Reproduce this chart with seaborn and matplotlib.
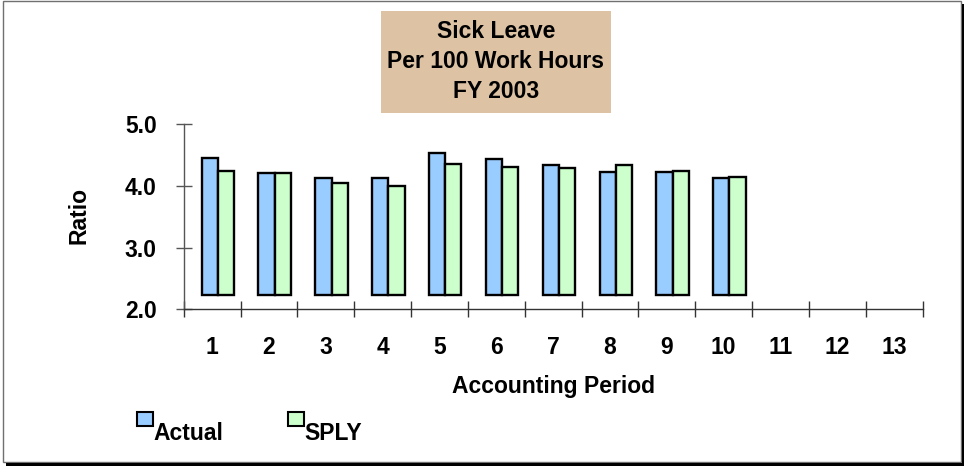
import numpy as np
import pandas as pd
import matplotlib
matplotlib.use('Agg')
import matplotlib.pyplot as plt
from matplotlib.patches import Rectangle
import seaborn as sns

# Veriler
periods = [str(i) for i in range(1, 14)]
actual = [4.45, 4.21, 4.13, 4.13, 4.53, 4.43, 4.33, 4.23, 4.23, 4.13]
sply = [4.24, 4.20, 4.05, 3.99, 4.36, 4.31, 4.29, 4.33, 4.24, 4.15]
series = ['Actual', 'SPLY']
colors = ['#99CCFF', '#CCFFCC']
yticks = [2.0, 3.0, 4.0, 5.0]
bar_base = 2.23

df = pd.DataFrame({
    'period': periods[:len(actual)] * 2,
    'value': actual + sply,
    'series': ['Actual'] * len(actual) + ['SPLY'] * len(sply),
})

sns.set_style('white')
plt.rcParams['font.family'] = ['Liberation Sans', 'DejaVu Sans']
plt.rcParams['font.weight'] = 'bold'
plt.rcParams['text.color'] = 'black'
plt.rcParams['axes.labelcolor'] = 'black'
plt.rcParams['xtick.color'] = 'black'
plt.rcParams['ytick.color'] = 'black'

FS = 16.5
W, H = 964, 466
fig = plt.figure(figsize=(W / 100, H / 100), dpi=100)
ax = fig.add_axes([183.7 / W, 1 - 309.3 / H, 739 / W, 185.3 / H])

sns.barplot(data=df, x='period', y='value', hue='series', order=periods,
            hue_order=series, palette=colors, edgecolor='black', linewidth=1.7,
            width=0.57, errorbar=None, legend=False, saturation=1, ax=ax)

# cubuklar 2.23'ten baslasin, biraz saga kaysin
for p in ax.patches:
    h = p.get_height()
    p.set_x(p.get_x() + 0.1)
    p.set_y(bar_base)
    p.set_height(h - bar_base)

ax.set_xlim(-0.5, 12.5)
ax.set_ylim(2.0, 5.0)
ax.set_xticks(np.arange(-0.5, 13, 1))
ax.set_xticklabels([])
ax.set_xticks(np.arange(13), labels=periods, minor=True)
ax.set_yticks(yticks, labels=[f'{v:.1f}' for v in yticks])

ax.tick_params(axis='x', which='major', bottom=True, direction='inout', length=11, width=1, color='#333333')
ax.tick_params(axis='x', which='minor', bottom=True, length=0, pad=19, labelsize=FS, labelcolor='black')
ax.tick_params(axis='y', left=True, direction='inout', length=11, width=1, color='#555555', pad=14,
               labelsize=FS, labelcolor='black')

for s in ['top', 'right']:
    ax.spines[s].set_visible(False)
ax.spines['left'].set_color('#555555')
ax.spines['bottom'].set_color('#333333')
ax.spines['left'].set_linewidth(1)
ax.spines['bottom'].set_linewidth(1)

ax.set_xlabel('Accounting Period', fontsize=FS, fontweight='bold', color='black')
ax.xaxis.set_label_coords(0.5, -0.352)
ax.set_ylabel('Ratio', fontsize=FS, fontweight='bold', color='black')
ax.yaxis.set_label_coords(-0.126, 0.505)


def px_rect(x0, y0, x1, y1, **kw):
    fig.add_artist(Rectangle((x0 / W, 1 - y1 / H), (x1 - x0) / W, (y1 - y0) / H,
                             transform=fig.transFigure, **kw))


# baslik kutusu
px_rect(381, 11, 611, 113, fc='#DDC3A4', ec='none', zorder=0)
for txt, yb in [('Sick Leave', 38.5), ('Per 100 Work Hours', 68), ('FY 2003', 98.3)]:
    fig.text(496 / W, 1 - yb / H, txt, ha='center', va='baseline', fontsize=FS, fontweight='bold', color='black')

# legend
for name, c, x0 in [('Actual', colors[0], 137), ('SPLY', colors[1], 288.3)]:
    px_rect(x0, 411.7, x0 + 15.5, 425.7, fc=c, ec='black', lw=1.5)
    fig.text((x0 + 16) / W, 1 - 440 / H, name, ha='left', va='baseline', fontsize=FS, fontweight='bold',
             color='black')

# cerceve ve golge
px_rect(3, 1, 961, 462, fill=False, ec='#707070', lw=1)
px_rect(961.5, 4, 964, 466, fc='black', ec='none')
px_rect(6, 462.5, 964, 466, fc='black', ec='none')

fig.savefig('out.png', dpi=100)
